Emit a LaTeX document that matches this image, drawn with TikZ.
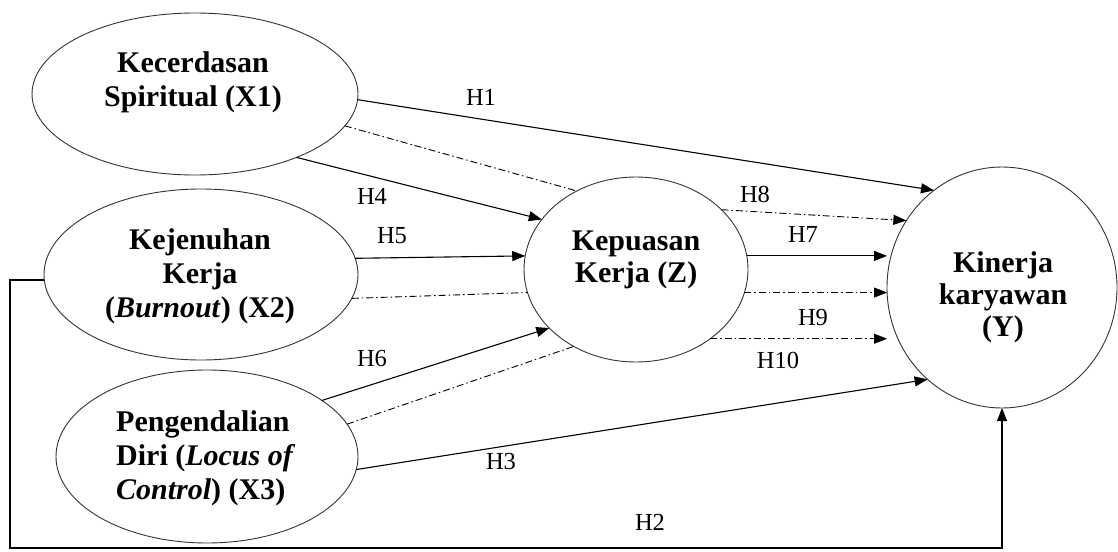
\documentclass[tikz,border=0pt]{standalone}
\usepackage{fontspec}
\setmainfont{Liberation Serif}
\usetikzlibrary{arrows.meta,shapes.geometric}
\begin{document}
\begin{tikzpicture}[x=1pt,y=-1pt,
  var/.style={ellipse,draw=black!80,line width=0.9pt,inner sep=0pt,outer sep=0pt},
  vtext/.style={font=\fontsize{30}{34}\selectfont\bfseries,align=center,inner sep=0pt},
  htext/.style={font=\fontsize{24.5}{27}\selectfont,inner sep=0pt},
  arr/.style={line width=1.1pt,-{Triangle[length=13pt,width=10pt]}},
  dd/.style={line width=0.9pt,dash pattern=on 7pt off 3pt on 1.5pt off 3pt},
]
\useasboundingbox (0,0) rectangle (1118,551);
% variables
\node[var,minimum width=326pt,minimum height=162pt] (X1) at (195,94) {};
\node[var,minimum width=314pt,minimum height=171pt] (X2) at (201,274.5) {};
\node[var,minimum width=302pt,minimum height=173pt] (X3) at (207,456.5) {};
\node[var,minimum width=224pt,minimum height=185pt] (Z) at (636,269.5) {};
\node[var,minimum width=230pt,minimum height=241pt] (Y) at (1002,287.5) {};
% texts
\node[vtext] (t1) at (193,82.4) {Kecerdasan\\Spiritual (X1)};
\node[vtext] (t2) at (200,276) {Kejenuhan\\Kerja\\(\textit{Burnout}) (X2)};
\node[vtext,align=left,anchor=west] (t3) at (116,458) {Pengendalian\\Diri (\textit{Locus of}\\\textit{Control}) (X3)};
\node[vtext,font=\fontsize{30}{32}\selectfont\bfseries] (tz) at (636,260) {Kepuasan\\Kerja (Z)};
\node[vtext,font=\fontsize{30}{32}\selectfont\bfseries] (ty) at (1003,297) {Kinerja\\karyawan\\(Y)};
% connectors to Z
\draw[arr] (X1.-32) -- (Z.152);
\draw[dd] (X1.-12) -- (Z.127);
\draw[arr] (X2.6) -- (Z.173);
\draw[dd] (X2.-9) -- (Z.192);
\draw[arr] (X3.26) -- (Z.214);
\draw[dd] (X3.13) -- (Z.231);
% connectors to Y
\draw[arr] (X1.-2) -- (Y.125);
\draw[arr,dd] (Z.35) -- (Y.145);
\draw[arr] (Z.7) -- (Z.7 -| Y.west);
\draw[arr,dd] (Z.-12) -- (Z.-12 -| Y.west);
\draw[arr,dd] (Z.-43) -- (Z.-43 -| Y.west);
\draw[arr] (X3.-5) -- (Y.231);
\coordinate (c1) at (10,548);
\draw[arr] (X2.182) -| (c1) -| (Y.south);
% labels
\node[htext] (h1) at (481,97) {H1};
\node[htext] (h2) at (650,522) {H2};
\node[htext] (h3) at (501,462) {H3};
\node[htext] (h4) at (372,196) {H4};
\node[htext] (h5) at (392,236) {H5};
\node[htext] (h6) at (372,359) {H6};
\node[htext] (h7) at (803,234) {H7};
\node[htext] (h8) at (755,194) {H8};
\node[htext] (h9) at (813,318) {H9};
\node[htext] (h10) at (778,360) {H10};
\end{tikzpicture}
\end{document}
